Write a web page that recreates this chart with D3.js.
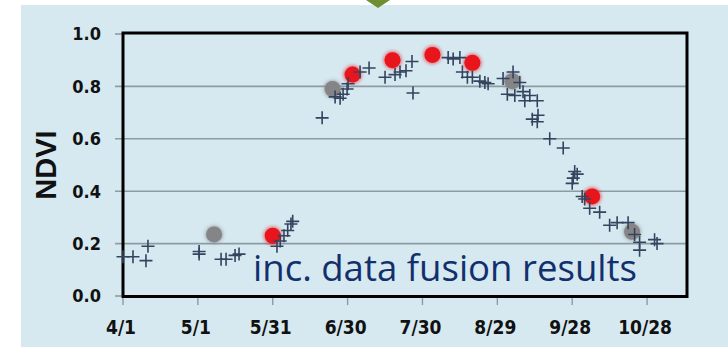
<!DOCTYPE html>
<html>
<head>
<meta charset="utf-8">
<script src="https://cdn.jsdelivr.net/npm/d3@7"></script>
<style>
  body { margin: 0; background: #ffffff; }
  svg { display: block; }
</style>
</head>
<body>
<div id="chart"></div>
<script>
// Days counted from 4/1
const crossDays = [0, 4, 10, 9.2, 30.5, 30.5, 39.3, 41.3, 44.9, 46.5,
    61.7, 63, 64.5, 66, 67.3, 68, 79.8, 85, 87, 88.2, 89.8, 90.2, 95, 98.6,
    105, 109, 111, 113.4, 115.8, 116.2, 130.3, 132.3, 135, 136, 138, 140,
    143, 145, 146.3, 152.3, 156.3, 154, 157, 159, 160.3, 161, 163, 166,
    164, 166.3, 166, 171, 176.4, 181, 182, 180.4, 180, 184, 185, 187, 191,
    195, 198, 202.4, 205, 207, 207, 213, 214];
const crossNdvi = [0.15, 0.15, 0.19, 0.135, 0.17, 0.16, 0.14, 0.14, 0.155, 0.16,
    0.19, 0.21, 0.23, 0.25, 0.275, 0.285, 0.68, 0.76, 0.755, 0.77, 0.79, 0.81, 0.855, 0.87,
    0.835, 0.845, 0.855, 0.86, 0.895, 0.775, 0.91, 0.905, 0.91, 0.855, 0.835, 0.835,
    0.82, 0.815, 0.81, 0.83, 0.855, 0.77, 0.765, 0.815, 0.78, 0.745, 0.765, 0.745,
    0.675, 0.69, 0.665, 0.60, 0.565, 0.475, 0.465, 0.45, 0.43, 0.38, 0.37, 0.335, 0.32,
    0.27, 0.28, 0.28, 0.235, 0.205, 0.175, 0.215, 0.20];

const fusionDays = [60, 92, 108, 124, 140, 188];
const fusionNdvi = [0.23, 0.845, 0.90, 0.92, 0.89, 0.38];

const grayDays = [36.5, 84, 156, 204];
const grayNdvi = [0.235, 0.79, 0.82, 0.245];

const xTickDays = [0, 30, 60, 90, 120, 150, 180, 210];
const xTickLabels = ["4/1", "5/1", "5/31", "6/30", "7/30", "8/29", "9/28", "10/28"];
const yTickValues = [0, 0.2, 0.4, 0.6, 0.8, 1.0];

const W = 728, H = 347;

const svg = d3.select("#chart")
    .append("svg")
    .attr("width", W)
    .attr("height", H);

// glow filter for the circles
const defs = svg.append("defs");
const glow = defs.append("filter").attr("id", "glow")
    .attr("x", "-50%").attr("y", "-50%").attr("width", "200%").attr("height", "200%");
glow.append("feGaussianBlur").attr("in", "SourceGraphic").attr("stdDeviation", 2.2).attr("result", "b");
const merge = glow.append("feMerge");
merge.append("feMergeNode").attr("in", "b");
merge.append("feMergeNode").attr("in", "SourceGraphic");

// panel background
svg.append("rect")
    .attr("x", 21).attr("y", 5)
    .attr("width", W - 21).attr("height", H - 5)
    .attr("fill", "#d6e9f0");

// small green marker at the top
svg.append("path")
    .attr("d", "M366,0 L390,0 L378,8 Z")
    .attr("fill", "#6e8e32");

const x = d3.scaleLinear()
    .domain([0, 226])
    .range([123, 687]);

const y = d3.scaleLinear()
    .domain([0, 1])
    .range([296, 34]);

// Grid lines
svg.selectAll("grid")
    .data(yTickValues.filter(d => d > 0 && d < 1))
    .join("line")
    .attr("x1", 115)
    .attr("x2", x.range()[1])
    .attr("y1", d => y(d))
    .attr("y2", d => y(d))
    .attr("stroke", "#8d9ba2")
    .attr("stroke-width", 1.6);

// tick stubs left of the axis for 0 and 1
svg.selectAll("ystub")
    .data([0, 1])
    .join("line")
    .attr("x1", 115).attr("x2", 123)
    .attr("y1", d => y(d)).attr("y2", d => y(d))
    .attr("stroke", "#8d9ba2")
    .attr("stroke-width", 1.6);

// x tick stubs
svg.selectAll("xstub")
    .data(xTickDays)
    .join("line")
    .attr("x1", d => x(d)).attr("x2", d => x(d))
    .attr("y1", 298).attr("y2", 305)
    .attr("stroke", "#8d9ba2")
    .attr("stroke-width", 1.4);

// Plot box
svg.append("rect")
    .attr("x", x(0))
    .attr("y", y(1) - 1)
    .attr("width", x.range()[1] - x(0))
    .attr("height", y(0) - y(1) + 1.5)
    .attr("fill", "none")
    .attr("stroke", "#000")
    .attr("stroke-width", 3);

// Y labels
svg.selectAll("ylab")
    .data(yTickValues)
    .join("text")
    .attr("x", 101)
    .attr("y", d => y(d))
    .attr("dy", "0.36em")
    .attr("text-anchor", "end")
    .style("font-family", "'DejaVu Sans Condensed', 'DejaVu Sans', sans-serif")
    .style("font-weight", "bold")
    .style("font-size", "18px")
    .attr("fill", "#111")
    .text(d => d.toFixed(1));

// X labels
svg.selectAll("xlab")
    .data(xTickDays)
    .join("text")
    .attr("x", (d, i) => x(d) - 2)
    .attr("y", 334)
    .attr("text-anchor", "middle")
    .style("font-family", "'DejaVu Sans Condensed', 'DejaVu Sans', sans-serif")
    .style("font-weight", "bold")
    .style("font-size", "19px")
    .attr("fill", "#111")
    .text((d, i) => xTickLabels[i]);

// Y title
svg.append("text")
    .attr("transform", "translate(56,165) rotate(-90)")
    .attr("text-anchor", "middle")
    .style("font-family", "'Liberation Sans', Arial, sans-serif")
    .style("font-weight", "bold")
    .style("font-size", "29px")
    .attr("fill", "#111")
    .text("NDVI");

// Gray circles
svg.selectAll("graydot")
    .data(grayDays)
    .join("circle")
    .attr("cx", d => x(d))
    .attr("cy", (d, i) => y(grayNdvi[i]))
    .attr("r", 8)
    .attr("fill", "#858588")
    .attr("filter", "url(#glow)");

// Red circles (fusion)
svg.selectAll("reddot")
    .data(fusionDays)
    .join("circle")
    .attr("cx", d => x(d))
    .attr("cy", (d, i) => y(fusionNdvi[i]))
    .attr("r", 8)
    .attr("fill", "#e8141a")
    .attr("filter", "url(#glow)");

// Crosses
const cs = 6.5;
svg.selectAll("cross")
    .data(crossDays)
    .join("path")
    .attr("d", (d, i) => {
        const cx = x(d), cy = y(crossNdvi[i]);
        return `M${cx - cs},${cy}H${cx + cs}M${cx},${cy - cs}V${cy + cs}`;
    })
    .attr("stroke", "#34445f")
    .attr("stroke-width", 1.6)
    .attr("fill", "none");

// Caption
svg.append("text")
    .attr("x", 253)
    .attr("y", 281)
    .attr("textLength", 384)
    .attr("lengthAdjust", "spacingAndGlyphs")
    .style("font-family", "'Open Sans', 'Noto Sans', sans-serif")
    .style("font-size", "37px")
    .attr("fill", "#13306e")
    .text("inc. data fusion results");
</script>
</body>
</html>
